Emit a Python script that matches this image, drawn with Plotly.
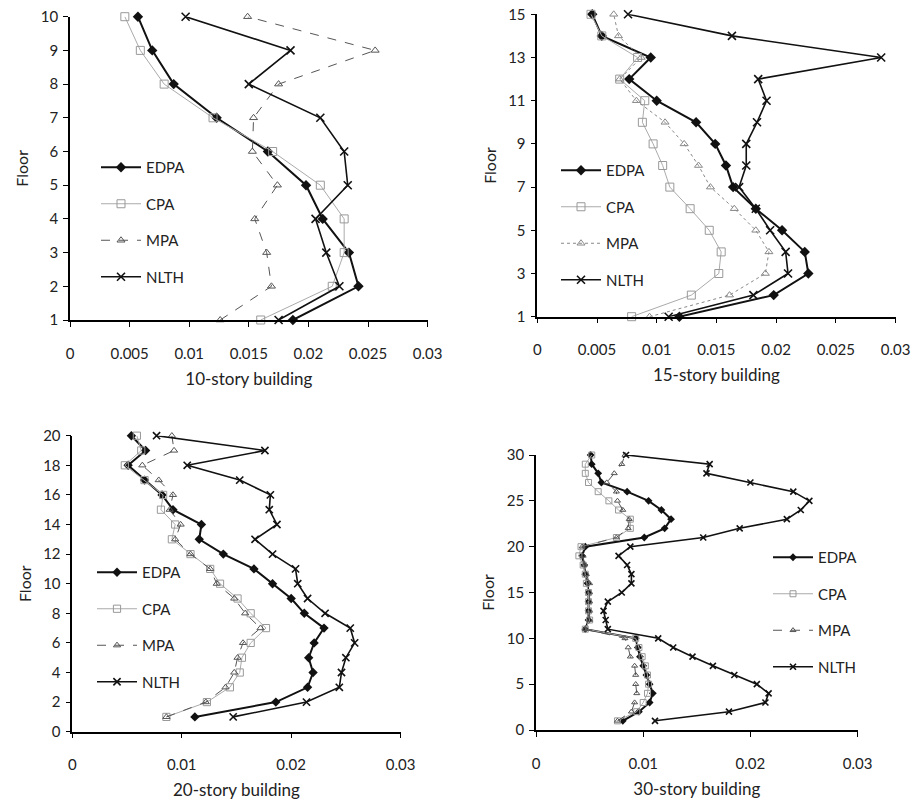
import plotly.graph_objects as go

W, H = 919, 802

# ---------------- data ----------------
floors10 = list(range(1, 11))
edpa10 = [0.0187, 0.0242, 0.0234, 0.0212, 0.0198, 0.0166, 0.0123, 0.0087, 0.0069, 0.0057]
cpa10 = [0.0160, 0.0220, 0.0230, 0.0230, 0.0210, 0.0170, 0.0120, 0.0079, 0.0059, 0.0046]
mpa10 = [0.0126, 0.0169, 0.0165, 0.0155, 0.0174, 0.0153, 0.0154, 0.0175, 0.0256, 0.0149]
nlth10 = [0.0175, 0.0226, 0.0215, 0.0206, 0.0233, 0.0230, 0.0210, 0.0150, 0.0185, 0.0097]

floors15 = list(range(1, 16))
edpa15 = [0.0119, 0.0198, 0.0227, 0.0224, 0.0205, 0.0183, 0.0164, 0.0158, 0.0149, 0.0133,
          0.0100, 0.0077, 0.0095, 0.0054, 0.0046]
cpa15 = [0.0079, 0.0129, 0.0152, 0.0154, 0.0144, 0.0128, 0.0111, 0.0105, 0.0097, 0.0088,
         0.0090, 0.0069, 0.0084, 0.0054, 0.0045]
mpa15 = [0.0094, 0.0161, 0.0191, 0.0194, 0.0183, 0.0165, 0.0145, 0.0135, 0.0123, 0.0107,
         0.0083, 0.0069, 0.0087, 0.0068, 0.0064]
nlth15 = [0.0110, 0.0181, 0.0210, 0.0208, 0.0195, 0.0183, 0.0169, 0.0175, 0.0175, 0.0184,
          0.0192, 0.0185, 0.0288, 0.0163, 0.0076]

floors20 = list(range(1, 21))
edpa20 = [0.0112, 0.0186, 0.0215, 0.0220, 0.0216, 0.0221, 0.0230, 0.0212, 0.0200, 0.0183,
          0.0166, 0.0138, 0.0116, 0.0118, 0.0092, 0.0082, 0.0066, 0.0051, 0.0067, 0.0054]
cpa20 = [0.0086, 0.0123, 0.0144, 0.0153, 0.0155, 0.0163, 0.0177, 0.0163, 0.0151, 0.0135,
         0.0126, 0.0108, 0.0091, 0.0094, 0.0081, 0.0083, 0.0066, 0.0048, 0.0063, 0.0059]
mpa20 = [0.0086, 0.0122, 0.0140, 0.0148, 0.0151, 0.0156, 0.0172, 0.0158, 0.0148, 0.0132,
         0.0126, 0.0108, 0.0094, 0.0099, 0.0089, 0.0092, 0.0079, 0.0064, 0.0093, 0.0091]
nlth20 = [0.0147, 0.0214, 0.0244, 0.0246, 0.0250, 0.0258, 0.0254, 0.0231, 0.0215, 0.0206,
          0.0204, 0.0183, 0.0167, 0.0187, 0.0180, 0.0181, 0.0153, 0.0105, 0.0176, 0.0077]

floors30 = list(range(1, 31))
edpa30 = [0.0081, 0.0096, 0.0106, 0.0109, 0.0106, 0.0103, 0.0100, 0.0097, 0.0095, 0.0093,
          0.0046, 0.0049, 0.0049, 0.0049, 0.0049, 0.0048, 0.0046, 0.0045, 0.0043, 0.0046,
          0.0101, 0.0120, 0.0126, 0.0117, 0.0105, 0.0085, 0.0061, 0.0058, 0.0052, 0.0051]
cpa30 = [0.0076, 0.0094, 0.0100, 0.0104, 0.0105, 0.0104, 0.0102, 0.0099, 0.0096, 0.0093,
         0.0046, 0.0050, 0.0049, 0.0049, 0.0049, 0.0047, 0.0046, 0.0044, 0.0040, 0.0042,
         0.0075, 0.0088, 0.0088, 0.0077, 0.0068, 0.0058, 0.0049, 0.0046, 0.0046, 0.0052]
mpa30 = [0.0076, 0.0089, 0.0092, 0.0094, 0.0093, 0.0093, 0.0092, 0.0088, 0.0086, 0.0083,
         0.0046, 0.0050, 0.0050, 0.0050, 0.0050, 0.0050, 0.0047, 0.0045, 0.0044, 0.0043,
         0.0075, 0.0086, 0.0087, 0.0081, 0.0076, 0.0075, 0.0066, 0.0073, 0.0080, 0.0083]
nlth30 = [0.0111, 0.0180, 0.0214, 0.0217, 0.0206, 0.0185, 0.0165, 0.0146, 0.0128, 0.0114,
          0.0067, 0.0065, 0.0063, 0.0067, 0.0080, 0.0089, 0.0089, 0.0085, 0.0077, 0.0088,
          0.0156, 0.0190, 0.0234, 0.0247, 0.0255, 0.0240, 0.0200, 0.0159, 0.0162, 0.0084]

series_names = ["EDPA", "CPA", "MPA", "NLTH"]
titles = ["10-story building", "15-story building", "20-story building", "30-story building"]
xticks_fine = [0, 0.005, 0.01, 0.015, 0.02, 0.025, 0.03]
xtick_fine_labels = ["0", "0.005", "0.01", "0.015", "0.02", "0.025", "0.03"]
xticks_coarse = [0, 0.01, 0.02, 0.03]
xtick_coarse_labels = ["0", "0.01", "0.02", "0.03"]

# ---------------- layout geometry (pixels) ----------------
FONT = "Lato"

def px_x(v):
    return v / W

def px_y(v):
    return 1 - v / H

panels = [
    dict(floors=floors10, data=[edpa10, cpa10, mpa10, nlth10], xd=(70, 427.6), yd=(320, 16.7),
         yr=[1, 10], ytv=list(range(1, 11)), xtv=xticks_fine, xtt=xtick_fine_labels,
         leg=(96, 151), mpa_dash="dash", msz=1.0),
    dict(floors=floors15, data=[edpa15, cpa15, mpa15, nlth15], xd=(537.3, 895.5), yd=(316.7, 14.3),
         yr=[1, 15], ytv=list(range(1, 16, 2)), xtv=xticks_fine, xtt=xtick_fine_labels,
         leg=(556, 154), mpa_dash="dot", msz=1.0),
    dict(floors=floors20, data=[edpa20, cpa20, mpa20, nlth20], xd=(72.3, 400.6), yd=(731.7, 435.7),
         yr=[0, 20], ytv=list(range(0, 21, 2)), xtv=xticks_coarse, xtt=xtick_coarse_labels,
         leg=(92, 556), mpa_dash="dash", msz=0.9),
    dict(floors=floors30, data=[edpa30, cpa30, mpa30, nlth30], xd=(536, 857.6), yd=(730, 455),
         yr=[0, 30], ytv=list(range(0, 31, 5)), xtv=xticks_coarse, xtt=xtick_coarse_labels,
         leg=(768, 541), mpa_dash="dash", msz=0.75),
]

fig = go.Figure()
layout = dict(
    width=W, height=H,
    template="none",
    margin=dict(l=0, r=0, t=0, b=0, pad=0, autoexpand=False),
    paper_bgcolor="white", plot_bgcolor="white",
    font=dict(family=FONT, size=15, color="#222"),
)

for i, p in enumerate(panels):
    n = i + 1
    xa = "x" if n == 1 else f"x{n}"
    ya = "y" if n == 1 else f"y{n}"
    legname = "legend" if n == 1 else f"legend{n}"
    k = p["msz"]
    mcol = "#555555" if p["mpa_dash"] == "dash" else "#888888"
    styles = [
        dict(line=dict(color="#111", width=2),
             marker=dict(symbol="diamond", size=8 * k, color="#111")),
        dict(line=dict(color="#aaaaaa", width=1),
             marker=dict(symbol="square-open", size=8 * k, color="#999999", line=dict(width=1))),
        dict(line=dict(color=mcol, width=1, dash=p["mpa_dash"]),
             marker=dict(symbol="triangle-up-open", size=7 * k, color=mcol, line=dict(width=1))),
        dict(line=dict(color="#111", width=1.6),
             marker=dict(symbol="x-thin-open", size=8 * k, color="#111",
                         line=dict(width=1.6, color="#111"))),
    ]
    for name, vals, st in zip(series_names, p["data"], styles):
        fig.add_trace(go.Scatter(
            x=vals, y=p["floors"], name=name, mode="lines+markers",
            xaxis=xa, yaxis=ya, legend=legname, legendgroup=f"{n}{name}",
            cliponaxis=False, **st))

    axis_common = dict(showgrid=False, zeroline=False, showline=True, linecolor="black",
                       linewidth=1.5, ticks="outside", tickcolor="black", ticklen=5,
                       tickwidth=1.2, automargin=False,
                       tickfont=dict(family=FONT, size=15, color="#222"))
    layout["xaxis" if n == 1 else f"xaxis{n}"] = dict(
        domain=[px_x(p["xd"][0]), px_x(p["xd"][1])],
        anchor=ya, range=[0, 0.03], tickmode="array", tickvals=p["xtv"], ticktext=p["xtt"],
        ticklabelstandoff=14,
        title=dict(text=titles[i], font=dict(family=FONT, size=17, color="#222"), standoff=12),
        **axis_common)
    layout["yaxis" if n == 1 else f"yaxis{n}"] = dict(
        domain=[px_y(p["yd"][0]), px_y(p["yd"][1])],
        anchor=xa, range=p["yr"], tickmode="array", tickvals=p["ytv"],
        ticklabelstandoff=2,
        title=dict(text="Floor", font=dict(family=FONT, size=16, color="#222"), standoff=8),
        **axis_common)
    layout[legname] = dict(
        x=px_x(p["leg"][0]), y=px_y(p["leg"][1]), xanchor="left", yanchor="top",
        bgcolor="rgba(0,0,0,0)", font=dict(family=FONT, size=15, color="#222"),
        tracegroupgap=14, itemwidth=40)

fig.update_layout(**layout)
fig.write_html("out.html", config={"displayModeBar": False},
               post_script="document.body.style.margin='0px';")
